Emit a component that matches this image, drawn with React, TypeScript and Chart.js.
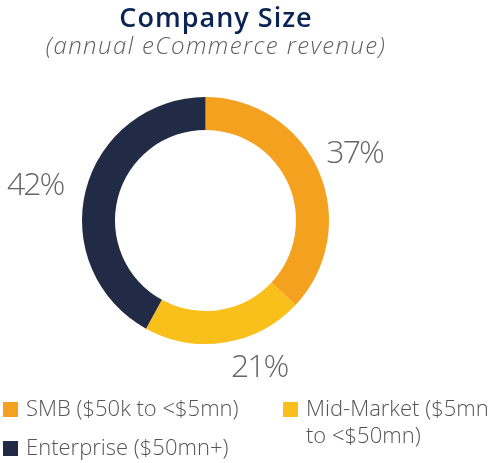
import React, { useEffect, useRef } from "react";
import { Chart, registerables } from "chart.js";
Chart.register(...registerables);

const categories = ["SMB ($50k to <$5mn)", "Mid-Market ($5mn to <$50mn)", "Enterprise ($50mn+)"];
const legendLines = [["SMB ($50k to <$5mn)"], ["Mid-Market ($5mn", "to <$50mn)"], ["Enterprise ($50mn+)"]];
const shares = [37, 21, 42];
const colors = ["#F4A11F", "#F9BF1B", "#212B45"];
const titleText = "Company Size";
const subtitleText = "(annual eCommerce revenue)";

const W = 494;
const H = 463;
const labelNudges = [[-1, -5], [28, -17], [-12, 3]];

const overlay = {
  id: "overlay",
  afterDraw(chart: any) {
    const ctx = chart.ctx as any;
    ctx.save();
    ctx.textAlign = "center";
    ctx.textBaseline = "alphabetic";
    ctx.fillStyle = "#0c2454";
    ctx.font = '600 27px "Open Sans"';
    ctx.letterSpacing = "1px";
    ctx.fillText(titleText, 216, 27);
    ctx.fillStyle = "#5f5f5f";
    ctx.font = 'italic 300 24px "Open Sans"';
    ctx.letterSpacing = "1.4px";
    ctx.fillText(subtitleText, 216, 54);

    const meta = chart.getDatasetMeta(0);
    ctx.font = '300 32px "Open Sans"';
    ctx.letterSpacing = "-2px";
    ctx.fillStyle = "#666666";
    meta.data.forEach((arc: any, i: number) => {
      const p = arc.getProps(["x", "y", "startAngle", "endAngle", "outerRadius"], true);
      const mid = (p.startAngle + p.endAngle) / 2;
      const r = p.outerRadius + 40;
      const x = p.x + Math.cos(mid) * r + labelNudges[i][0];
      const y = p.y + Math.sin(mid) * r + labelNudges[i][1];
      ctx.fillText(shares[i] + "%", x, y + 12);
    });

    // legend
    const colX = [3, 283];
    const row0 = 416;
    const rowGap = 39;
    const lineH = 27;
    const box = 15;
    ctx.textAlign = "left";
    ctx.letterSpacing = "0px";
    ctx.font = '300 22px "Open Sans"';
    legendLines.forEach((lines, i) => {
      const col = i % 2;
      const row = Math.floor(i / 2);
      const bx = colX[col];
      const by = row0 + row * rowGap;
      ctx.fillStyle = colors[i];
      ctx.fillRect(bx, by - 14, box, box);
      ctx.fillStyle = "#555555";
      lines.forEach((ln, j) => ctx.fillText(ln, bx + 23, by + j * lineH));
    });
    ctx.restore();
  },
};

export default function App() {
  const ref = useRef<HTMLCanvasElement>(null);
  useEffect(() => {
    if (!ref.current) return;
    const chart = new Chart(ref.current, {
      type: "doughnut",
      data: {
        labels: categories,
        datasets: [{ data: shares, backgroundColor: colors, borderWidth: 0, hoverOffset: 0 }],
      },
      options: {
        responsive: false,
        animation: false,
        cutout: "73.3%",
        layout: { padding: { left: 82, right: 165, top: 97, bottom: 119 } },
        plugins: { legend: { display: false }, title: { display: false }, tooltip: { enabled: false } },
      },
      plugins: [overlay],
    });
    return () => chart.destroy();
  }, []);
  return (
    <div style={{ position: "absolute", left: 0, top: 0, width: W, height: H, background: "#fff" }}>
      <canvas ref={ref} width={W} height={H} style={{ display: "block" }} />
    </div>
  );
}
